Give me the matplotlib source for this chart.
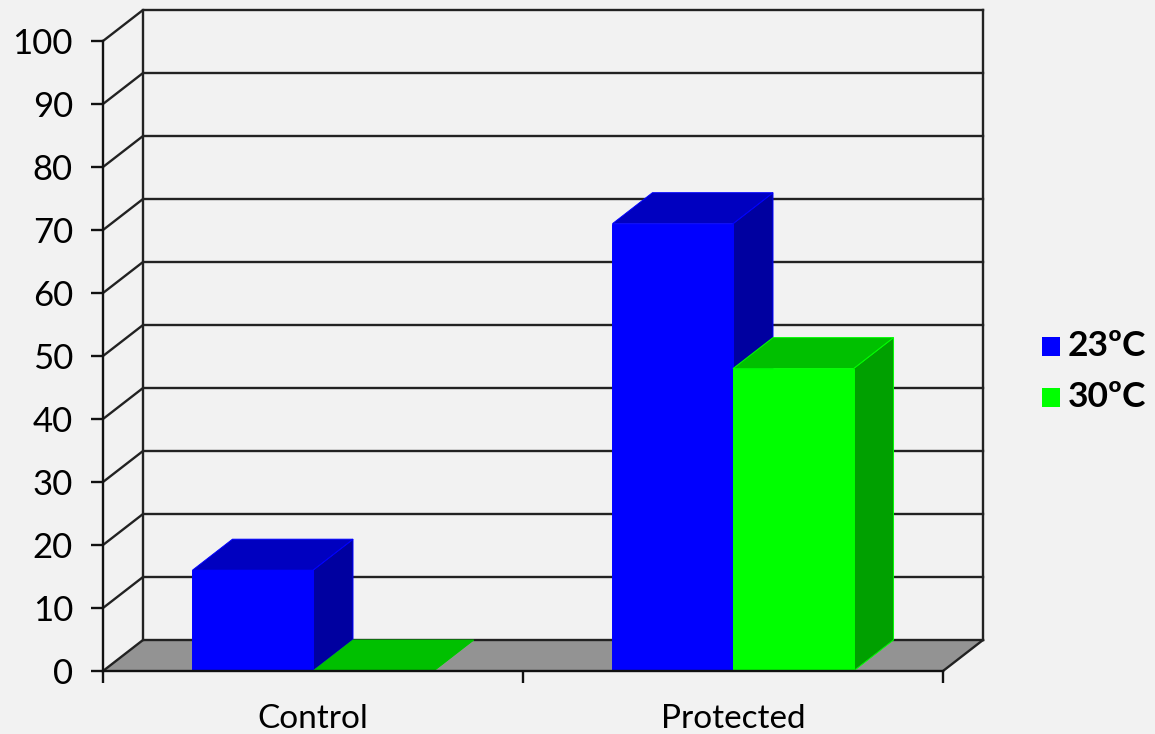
import matplotlib
matplotlib.use('Agg')
import matplotlib.pyplot as plt
from matplotlib.patches import Rectangle

categories = ['Control', 'Protected']
series_names = ['23ºC', '30ºC']
values_23 = [16, 71]
values_30 = [0, 48]
y_ticks = [0, 10, 20, 30, 40, 50, 60, 70, 80, 90, 100]

W, H = 1155, 734
BG = '#f2f2f2'
LINE = '#222222'
LW = 1.7

# pixel box of the front plane
LEFT, RIGHT, TOP, BOTTOM = 103, 943, 41, 671

plt.rcParams['font.family'] = ['Lato', 'DejaVu Sans']

fig = plt.figure(figsize=(W / 100, H / 100), dpi=100, facecolor=BG)
ax = fig.add_axes([LEFT / W, 1 - BOTTOM / H, (RIGHT - LEFT) / W, (BOTTOM - TOP) / H])
ax.patch.set_visible(False)
ax.set_xlim(0, 2)
ax.set_ylim(0, 100)

# fake 3D depth, in data units
DX = 40 / 420
DY = 31 / 6.3
BAR_W = 0.287


def face(xs, ys, color, edge=None, z=2):
    ax.fill(xs, ys, facecolor=color, edgecolor=edge or color, lw=0.7,
            clip_on=False, zorder=z)


def bar3d(x0, x1, v, front, top, side):
    face([x1, x1 + DX, x1 + DX, x1], [0, DY, v + DY, v], side, front)
    face([x0, x0 + DX, x1 + DX, x1], [v, v + DY, v + DY, v], top, front if v > 0 else top)
    if v > 0:
        face([x0, x1, x1, x0], [0, 0, v, v], front)


# floor
face([0, DX, 2 + DX, 2], [0, DY, DY, 0], '#939393', '#939393', z=1)

# walls and grid
for v in y_ticks:
    ax.plot([0, DX, 2 + DX], [v, v + DY, v + DY], color=LINE, lw=LW,
            clip_on=False, zorder=1.2)
ax.plot([DX, DX], [DY, 100 + DY], color=LINE, lw=LW, clip_on=False, zorder=1.2)
ax.plot([2 + DX, 2 + DX], [DY, 100 + DY], color=LINE, lw=LW, clip_on=False, zorder=1.2)
ax.plot([2, 2 + DX], [0, DY], color=LINE, lw=LW, clip_on=False, zorder=1.2)

for i in range(len(categories)):
    c = i + 0.5
    bar3d(c - BAR_W, c, values_23[i], '#0000ff', '#0000c0', '#0000a0')
    bar3d(c, c + BAR_W, values_30[i], '#00ff00', '#00c000', '#00a000')

# axes
for s in ['top', 'right']:
    ax.spines[s].set_visible(False)
for s in ['left', 'bottom']:
    ax.spines[s].set_linewidth(LW)
    ax.spines[s].set_color('#111111')
ax.set_yticks(y_ticks)
ax.tick_params(axis='y', length=8.6, width=LW, color='#111111', pad=13, labelsize=25)
ax.set_xticks([0, 1, 2])
ax.set_xticklabels([])
ax.tick_params(axis='x', which='major', length=8.6, width=LW, color='#111111')
ax.set_xticks([0.5, 1.5], minor=True)
ax.set_xticklabels(categories, minor=True)
ax.tick_params(axis='x', which='minor', length=0, pad=23.5, labelsize=24)

# legend
legend_colors = ['#0000ff', '#00ff00']
for name, col, yc in zip(series_names, legend_colors, [346, 397]):
    fig.add_artist(Rectangle((1042 / W, 1 - (yc + 9.5) / H), 18 / W, 19 / H,
                             transform=fig.transFigure, facecolor=col, edgecolor='none'))
    fig.text(1068 / W, 1 - yc / H, name, fontsize=25.5, fontweight='bold', va='center', ha='left')

fig.savefig('out.png', dpi=100, facecolor=BG)
